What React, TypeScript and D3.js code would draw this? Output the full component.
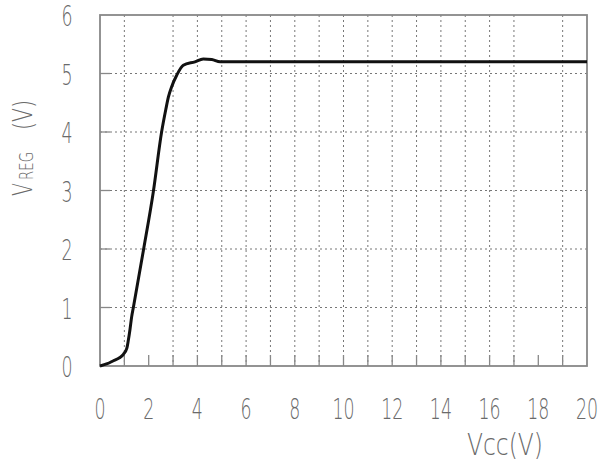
import React from "react";
import * as d3 from "d3";

const vcc = [0, 0.3, 0.55, 0.8, 0.96, 1.1, 1.16, 1.23, 1.3, 1.37, 1.78, 2.19, 2.53, 2.7, 2.81, 2.94, 3.15, 3.42, 3.9, 4.24, 4.59, 4.93, 6, 10, 15, 20];
const vreg = [0, 0.04, 0.09, 0.14, 0.2, 0.3, 0.43, 0.62, 0.84, 1.0, 1.97, 2.98, 4.0, 4.38, 4.6, 4.77, 4.97, 5.14, 5.2, 5.25, 5.24, 5.2, 5.2, 5.2, 5.2, 5.2];
const xTickLabels = [0, 2, 4, 6, 8, 10, 12, 14, 16, 18, 20];
const yTickLabels = [0, 1, 2, 3, 4, 5, 6];
const xMinorTicks = d3.range(1, 20);
const xGridValues = [1, 3, 4, 5, 6, 7, 8, 9, 10, 11, 12, 13, 14, 15, 16, 17, 19];
const yGridValues = [1, 2, 3, 4, 5];

const W = 602;
const H = 472;
const FONT = "'DejaVu Sans', 'Liberation Sans', sans-serif";
const TEXT = "#6a6a6a";

export default function App() {
  const x = d3.scaleLinear().domain([0, 20]).range([100, 587]);
  const y = d3.scaleLinear().domain([0, 6]).range([366, 15]);
  const pts = vcc.map((v, i) => [v, vreg[i]] as [number, number]);
  const line = d3
    .line<[number, number]>()
    .x((d) => x(d[0]))
    .y((d) => y(d[1]))
    .curve(d3.curveMonotoneX);

  return (
    <svg width={W} height={H} style={{ position: "absolute", left: 0, top: 0, background: "#fff" }}>
      {/* grid */}
      {xGridValues.map((v) => (
        <line key={"gx" + v} x1={x(v)} x2={x(v)} y1={y(6)} y2={y(0)} stroke="#777" strokeWidth={1} strokeDasharray="2,3" />
      ))}
      {yGridValues.map((v) => (
        <line key={"gy" + v} x1={x(0)} x2={x(20)} y1={y(v)} y2={y(v)} stroke="#777" strokeWidth={1} strokeDasharray="2,3" />
      ))}
      {/* ticks */}
      {xMinorTicks.map((v) => (
        <line key={"tx" + v} x1={x(v)} x2={x(v)} y1={y(0)} y2={y(0) - 11} stroke="#888" strokeWidth={1.3} />
      ))}
      {yGridValues.map((v) => (
        <line key={"ty" + v} x1={x(0)} x2={x(0) + 10} y1={y(v)} y2={y(v)} stroke="#888" strokeWidth={1.3} />
      ))}
      {/* frame */}
      <rect x={x(0)} y={y(6)} width={x(20) - x(0)} height={y(0) - y(6)} fill="none" stroke="#888" strokeWidth={1.8} />
      {/* curve */}
      <path d={line(pts) || ""} fill="none" stroke="#111" strokeWidth={3} strokeLinejoin="round" />
      {/* y tick labels */}
      {yTickLabels.map((v) => (
        <text
          key={"yl" + v}
          transform={`translate(67,${y(v) + 11}) scale(0.6,1)`}
          textAnchor="middle"
          fontFamily={FONT}
          fontWeight={200}
          fontSize={29}
          fill={TEXT}
        >
          {v}
        </text>
      ))}
      {/* x tick labels */}
      {xTickLabels.map((v) => (
        <text
          key={"xl" + v}
          transform={`translate(${x(v)},419) scale(0.6,1)`}
          textAnchor="middle"
          fontFamily={FONT}
          fontWeight={200}
          fontSize={29}
          fill={TEXT}
        >
          {v}
        </text>
      ))}
      {/* x axis label */}
      <text x={467} y={455} fontFamily={FONT} fontWeight={200} fontSize={30} fill={TEXT} textLength={76} lengthAdjust="spacingAndGlyphs">
        Vcc(V)
      </text>
      {/* y axis label */}
      <g transform="translate(32,196) rotate(-90)">
        <text x={0} y={0} fontFamily={FONT} fontWeight={200} fontSize={26} fill={TEXT} textLength={13} lengthAdjust="spacingAndGlyphs">
          V
        </text>
        <text x={16} y={1} fontFamily={FONT} fontWeight={200} fontSize={19} fill={TEXT} textLength={28} lengthAdjust="spacingAndGlyphs">
          REG
        </text>
        <text x={66} y={0} fontFamily={FONT} fontWeight={200} fontSize={26} fill={TEXT} textLength={30} lengthAdjust="spacingAndGlyphs">
          (V)
        </text>
      </g>
    </svg>
  );
}
